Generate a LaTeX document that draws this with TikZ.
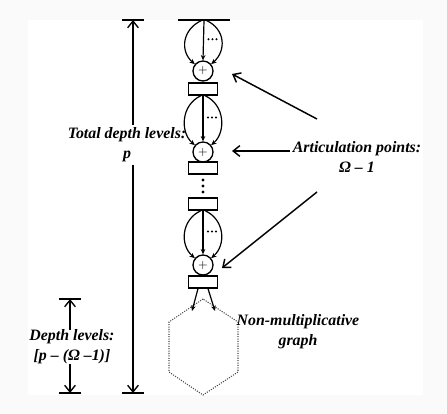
\documentclass[tikz,border=0pt]{standalone}
\usepackage{fontspec}
\setmainfont{Liberation Serif}
\usetikzlibrary{arrows.meta, calc}

\begin{document}
\begin{tikzpicture}[
        x=0.75pt, y=-0.75pt,
        % Define styles
        plus/.style={draw, circle, line width=1pt, fill=white, minimum size=15pt, inner sep=0pt, font=\small},
        block/.style={draw, line width=1pt, fill=white, minimum width=22pt, minimum height=9pt, inner sep=0pt},
        lbl/.style={font=\fontsize{11.9}{15}\selectfont\bfseries\itshape, align=center, inner sep=2pt},
        edgearc/.style={line width=0.9pt, -{Stealth[length=4pt, width=3.5pt]}},
        pointer/.style={line width=1.1pt, -{Straight Barb[length=5pt, width=8pt]}},
        dim/.style={line width=1pt, -{Straight Barb[length=5pt, width=8pt]}},
        bar/.style={line width=1pt},
        hex/.style={densely dotted, thick, gray!60!black}
    ]

    % Canvas
    \useasboundingbox (0,0) rectangle (447,414);
    \fill[gray!4] (0,0) rectangle (447,414);
    \fill[white] (28,20) rectangle (423,395);

    % 1. Chain of articulation points
    \node[inner sep=0pt, minimum width=39pt, minimum height=0pt] (top) at (204,20) {};
    \draw[bar] (top.west) -- (top.east);
    \node[plus] (p1) at (203,71) {$+$};
    \node[block] (b1) at (203,89) {};
    \node[plus] (p2) at (203,152) {$+$};
    \node[block] (b2) at (203,168) {};
    \node[block] (b3) at (203,204) {};
    \node[plus] (p3) at (203,265) {$+$};
    \node[block] (b4) at (203,282) {};

    \draw[thick] (p1) -- (b1);
    \draw[thick] (p2) -- (b2);
    \draw[thick] (p3) -- (b4);

    % vertical dots between the blocks
    \foreach \yy in {180,186,192}
        \fill (203,\yy) circle (1.3pt);

    % 2. Parallel edges into each articulation point
    \foreach \src/\dst in {top/p1, b1/p2, b3/p3} {
        \draw[edgearc] (\src.south) -- (\dst.north);
        \draw[edgearc] ($(\src.south)+(-2,0)$) .. controls +(-20,9) and +(-15,-13) .. (\dst.140);
        \draw[edgearc] ($(\src.south)+(2,0)$) .. controls +(20,9) and +(15,-13) .. (\dst.40);
        \coordinate (mid) at ($(\src.south)!0.5!(\dst.north)+(9,-1)$);
        \foreach \dx in {-4,0,4}
            \fill ($(mid)+(\dx,0)$) circle (0.85pt);
    }

    % 3. Non-multiplicative graph
    \coordinate (hT) at (203,299);
    \coordinate (hUL) at (169,322);
    \coordinate (hLL) at (169,372);
    \coordinate (hB) at (203,395);
    \coordinate (hLR) at (238,372);
    \coordinate (hUR) at (238,322);
    \draw[hex] (hT) -- (hUL) -- (hLL) -- (hB) -- (hLR) -- (hUR) -- cycle;

    \coordinate (inL) at (192,311);
    \coordinate (inR) at (215,311);
    \draw[edgearc] ($(b4.south)+(-5,0)$) -- (inL);
    \draw[edgearc] ($(b4.south)+(5,0)$) -- (inR);

    \node[lbl, inner sep=0pt] (nonmult) at (298,332) {Non-multiplicative\\graph};

    % 4. Articulation points label
    \node[lbl] (artic) at (357,157) {Articulation points:\\Ω -- 1};
    \coordinate (a1s) at (317,119);
    \coordinate (a1e) at (232,74);
    \coordinate (a2e) at (232,151);
    \coordinate (a3s) at (317,192);
    \coordinate (a3e) at (222,268);
    \draw[pointer] (a1s) -- (a1e);
    \draw[pointer] (artic.west |- a2e) -- (a2e);
    \draw[pointer] (a3s) -- (a3e);

    % 5. Total depth
    \coordinate (ttop) at (133,20);
    \coordinate (tbot) at (133,393);
    \draw[bar] ($(ttop)+(-11,0)$) -- ($(ttop)+(11,0)$);
    \draw[bar] ($(tbot)+(-11,0)$) -- ($(tbot)+(11,0)$);
    \node[lbl] (total) at (127,145) {Total depth levels:\\p};
    \draw[dim] (total.north -| ttop) -- (ttop);
    \draw[dim] (total.south -| tbot) -- (tbot);

    % 6. Remaining depth
    \coordinate (dtop) at (70,299);
    \coordinate (dbot) at (70,393);
    \draw[bar] ($(dtop)+(-11,0)$) -- ($(dtop)+(11,0)$);
    \draw[bar] ($(dbot)+(-11,0)$) -- ($(dbot)+(11,0)$);
    \node[lbl, inner sep=0pt] (depth) at (72,347) {Depth levels:\\{[}p -- (Ω --1)]};
    \draw[dim] (depth.north -| dtop) -- (dtop);
    \draw[dim] (depth.south -| dbot) -- (dbot);

\end{tikzpicture}
\end{document}
